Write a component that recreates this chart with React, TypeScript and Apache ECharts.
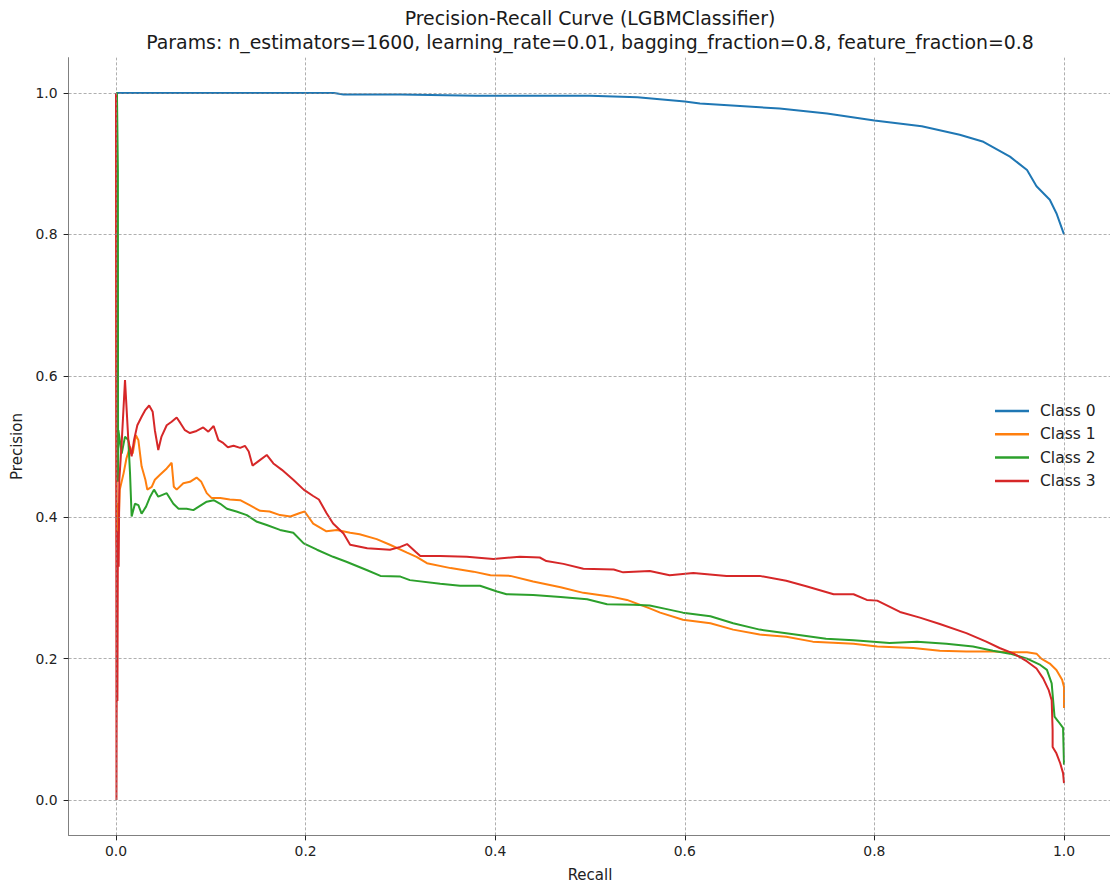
import React, { useEffect, useRef } from "react";
import * as echarts from "echarts";

const TITLE_LINE_1 = "Precision-Recall Curve (LGBMClassifier)";
const TITLE_LINE_2 = "Params: n_estimators=1600, learning_rate=0.01, bagging_fraction=0.8, feature_fraction=0.8";

const classNames = ["Class 0", "Class 1", "Class 2", "Class 3"];
const classColors = ["#1f77b4", "#ff7f0e", "#2ca02c", "#d62728"];

const xTicks = [0, 0.2, 0.4, 0.6, 0.8, 1.0];
const yTicks = [0, 0.2, 0.4, 0.6, 0.8, 1.0];

const recall0 = [0, 0.23, 0.24, 0.30, 0.38, 0.50, 0.55, 0.60, 0.616, 0.70, 0.75, 0.80, 0.85, 0.89, 0.915, 0.943, 0.961, 0.971, 0.985, 0.992, 1.0];
const precision0 = [1.0, 1.0, 0.998, 0.998, 0.996, 0.996, 0.994, 0.988, 0.985, 0.978, 0.971, 0.961, 0.953, 0.941, 0.931, 0.910, 0.891, 0.868, 0.849, 0.830, 0.80];

const recall1 = [0, 0.0008, 0.0015, 0.0024, 0.004, 0.008, 0.011, 0.0148, 0.0176, 0.021, 0.0236, 0.027, 0.031, 0.033, 0.0377, 0.041, 0.0464, 0.0535, 0.0587, 0.061, 0.064, 0.071, 0.078, 0.085, 0.090, 0.0957, 0.101, 0.110, 0.120, 0.131, 0.141, 0.152, 0.162, 0.173, 0.184, 0.194, 0.199, 0.208, 0.222, 0.233, 0.247, 0.257, 0.275, 0.289, 0.307, 0.317, 0.328, 0.353, 0.377, 0.395, 0.416, 0.440, 0.469, 0.493, 0.521, 0.539, 0.563, 0.574, 0.598, 0.627, 0.651, 0.679, 0.707, 0.735, 0.778, 0.803, 0.841, 0.869, 0.897, 0.925, 0.943, 0.961, 0.971, 0.976, 0.985, 0.992, 0.998, 1.0, 1.0];
const precision1 = [1.0, 0.36, 0.42, 0.377, 0.439, 0.462, 0.483, 0.500, 0.490, 0.516, 0.509, 0.472, 0.453, 0.439, 0.443, 0.453, 0.460, 0.469, 0.477, 0.443, 0.439, 0.448, 0.450, 0.456, 0.450, 0.434, 0.427, 0.427, 0.425, 0.424, 0.417, 0.409, 0.408, 0.403, 0.401, 0.406, 0.408, 0.391, 0.380, 0.382, 0.378, 0.376, 0.369, 0.361, 0.350, 0.344, 0.335, 0.328, 0.323, 0.318, 0.317, 0.309, 0.301, 0.293, 0.288, 0.283, 0.271, 0.265, 0.255, 0.250, 0.241, 0.234, 0.231, 0.224, 0.221, 0.217, 0.215, 0.211, 0.210, 0.210, 0.209, 0.209, 0.207, 0.200, 0.193, 0.184, 0.170, 0.160, 0.130];

const recall2 = [0, 0.001, 0.0015, 0.002, 0.0022, 0.0025, 0.004, 0.006, 0.0095, 0.013, 0.0148, 0.0165, 0.020, 0.0236, 0.027, 0.0317, 0.036, 0.0401, 0.0446, 0.0535, 0.0605, 0.066, 0.0745, 0.0816, 0.0886, 0.0957, 0.103, 0.110, 0.117, 0.127, 0.138, 0.148, 0.159, 0.173, 0.187, 0.198, 0.212, 0.229, 0.243, 0.265, 0.279, 0.300, 0.310, 0.342, 0.363, 0.384, 0.402, 0.412, 0.440, 0.469, 0.497, 0.518, 0.546, 0.563, 0.581, 0.598, 0.627, 0.651, 0.679, 0.707, 0.749, 0.778, 0.816, 0.845, 0.876, 0.904, 0.925, 0.943, 0.961, 0.975, 0.982, 0.987, 0.990, 0.994, 0.999, 1.0];
const precision2 = [1.0, 1.0, 1.0, 0.89, 0.45, 0.523, 0.509, 0.490, 0.514, 0.509, 0.462, 0.401, 0.419, 0.417, 0.405, 0.415, 0.429, 0.439, 0.429, 0.434, 0.419, 0.412, 0.412, 0.410, 0.416, 0.422, 0.424, 0.419, 0.412, 0.408, 0.403, 0.394, 0.389, 0.382, 0.378, 0.363, 0.354, 0.344, 0.337, 0.325, 0.317, 0.316, 0.311, 0.306, 0.303, 0.303, 0.295, 0.291, 0.290, 0.287, 0.284, 0.277, 0.276, 0.275, 0.270, 0.265, 0.260, 0.250, 0.241, 0.236, 0.228, 0.226, 0.222, 0.224, 0.221, 0.217, 0.211, 0.207, 0.200, 0.191, 0.184, 0.165, 0.118, 0.111, 0.102, 0.050];

const recall3 = [0, 0.0005, 0.001, 0.0015, 0.002, 0.0028, 0.0035, 0.006, 0.0095, 0.013, 0.0165, 0.019, 0.0225, 0.027, 0.0306, 0.035, 0.0387, 0.041, 0.0446, 0.048, 0.0535, 0.0587, 0.064, 0.068, 0.0727, 0.078, 0.085, 0.092, 0.0974, 0.103, 0.108, 0.113, 0.118, 0.124, 0.131, 0.136, 0.140, 0.144, 0.150, 0.159, 0.166, 0.175, 0.187, 0.198, 0.208, 0.214, 0.222, 0.229, 0.240, 0.247, 0.265, 0.289, 0.300, 0.307, 0.316, 0.321, 0.342, 0.370, 0.398, 0.426, 0.447, 0.454, 0.472, 0.493, 0.525, 0.535, 0.563, 0.584, 0.609, 0.644, 0.679, 0.707, 0.729, 0.757, 0.778, 0.792, 0.803, 0.827, 0.848, 0.869, 0.897, 0.918, 0.932, 0.947, 0.961, 0.971, 0.978, 0.984, 0.987, 0.988, 0.988, 0.992, 0.996, 0.999, 1.0];
const precision3 = [1.0, 0.0, 0.30, 0.14, 0.38, 0.33, 0.453, 0.505, 0.594, 0.509, 0.486, 0.509, 0.530, 0.542, 0.551, 0.558, 0.549, 0.523, 0.495, 0.514, 0.530, 0.535, 0.541, 0.533, 0.523, 0.519, 0.522, 0.527, 0.521, 0.529, 0.509, 0.505, 0.499, 0.501, 0.498, 0.501, 0.493, 0.473, 0.479, 0.488, 0.476, 0.467, 0.453, 0.439, 0.430, 0.425, 0.406, 0.391, 0.377, 0.361, 0.356, 0.354, 0.358, 0.362, 0.351, 0.345, 0.345, 0.344, 0.341, 0.344, 0.343, 0.338, 0.334, 0.327, 0.326, 0.322, 0.324, 0.318, 0.321, 0.317, 0.317, 0.310, 0.302, 0.291, 0.291, 0.283, 0.282, 0.266, 0.258, 0.249, 0.236, 0.224, 0.215, 0.207, 0.196, 0.186, 0.172, 0.155, 0.141, 0.099, 0.075, 0.066, 0.052, 0.038, 0.024];

const recalls = [recall0, recall1, recall2, recall3];
const precisions = [precision0, precision1, precision2, precision3];

const FONT = "DejaVu Sans";

export default function App() {
  const ref = useRef<HTMLDivElement>(null);

  useEffect(() => {
    if (!ref.current) return;
    const chart = echarts.init(ref.current, null, { renderer: "svg" });

    const curveSeries = classNames.map((name, i) => ({
      name,
      type: "line",
      data: recalls[i].map((r, j) => [r, precisions[i][j]]),
      showSymbol: false,
      symbol: "none",
      lineStyle: { width: 2, color: classColors[i] },
      itemStyle: { color: classColors[i] },
      z: 3,
    }));

    const gridSeries = {
      name: "grid",
      type: "line",
      data: [],
      z: 1,
      silent: true,
      markLine: {
        silent: true,
        symbol: "none",
        label: { show: false },
        lineStyle: { type: [3, 2], width: 0.7, color: "#8c8c8c" },
        data: [
          ...xTicks.map((v) => ({ xAxis: v })),
          ...yTicks.map((v) => ({ yAxis: v })),
        ],
      },
    };

    chart.setOption({
      animation: false,
      backgroundColor: "#ffffff",
      textStyle: { fontFamily: FONT },
      grid: {
        left: 68.6,
        top: 57.65,
        width: 1042.8,
        height: 777.7,
        outerBoundsMode: "none",
        containLabel: false,
      },
      graphic: [
        {
          type: "text",
          x: 590,
          y: 18,
          style: {
            text: TITLE_LINE_1,
            font: `18.9px "${FONT}"`,
            fill: "#1a1a1a",
            textAlign: "center",
            textVerticalAlign: "middle",
          },
        },
        {
          type: "text",
          x: 590,
          y: 42,
          style: {
            text: TITLE_LINE_2,
            font: `18.9px "${FONT}"`,
            fill: "#1a1a1a",
            textAlign: "center",
            textVerticalAlign: "middle",
          },
        },
      ],
      legend: {
        data: classNames,
        orient: "vertical",
        left: 995,
        top: 402,
        padding: 0,
        icon: "rect",
        itemWidth: 34,
        itemHeight: 2.5,
        itemGap: 5.3,
        textStyle: {
          fontFamily: FONT,
          fontSize: 15.5,
          color: "#222",
          lineHeight: 18,
          padding: [0, 0, 0, 6],
        },
      },
      xAxis: {
        type: "value",
        min: -0.05,
        max: 1.05,
        name: "Recall",
        nameLocation: "middle",
        nameGap: 32,
        nameTextStyle: { fontFamily: FONT, fontSize: 15, color: "#222" },
        splitLine: { show: false },
        axisLine: { show: true, onZero: false, lineStyle: { color: "#808080", width: 1 } },
        axisTick: { show: true, customValues: xTicks, length: 5, lineStyle: { color: "#222" } },
        axisLabel: {
          customValues: xTicks,
          formatter: (v: number) => v.toFixed(1),
          margin: 9,
          fontFamily: FONT,
          fontSize: 13.9,
          color: "#222",
        },
      },
      yAxis: {
        type: "value",
        min: -0.05,
        max: 1.05,
        name: "Precision",
        nameLocation: "middle",
        nameGap: 43,
        nameTextStyle: { fontFamily: FONT, fontSize: 15, color: "#222" },
        splitLine: { show: false },
        axisLine: { show: true, onZero: false, lineStyle: { color: "#808080", width: 1 } },
        axisTick: { show: true, customValues: yTicks, length: 5, lineStyle: { color: "#222" } },
        axisLabel: {
          customValues: yTicks,
          formatter: (v: number) => v.toFixed(1),
          margin: 11,
          fontFamily: FONT,
          fontSize: 13.9,
          color: "#222",
        },
      },
      series: [gridSeries, ...curveSeries],
    });

    return () => {
      chart.dispose();
    };
  }, []);

  return (
    <div
      ref={ref}
      style={{ position: "absolute", left: 0, top: 0, width: 1110, height: 884 }}
    />
  );
}
